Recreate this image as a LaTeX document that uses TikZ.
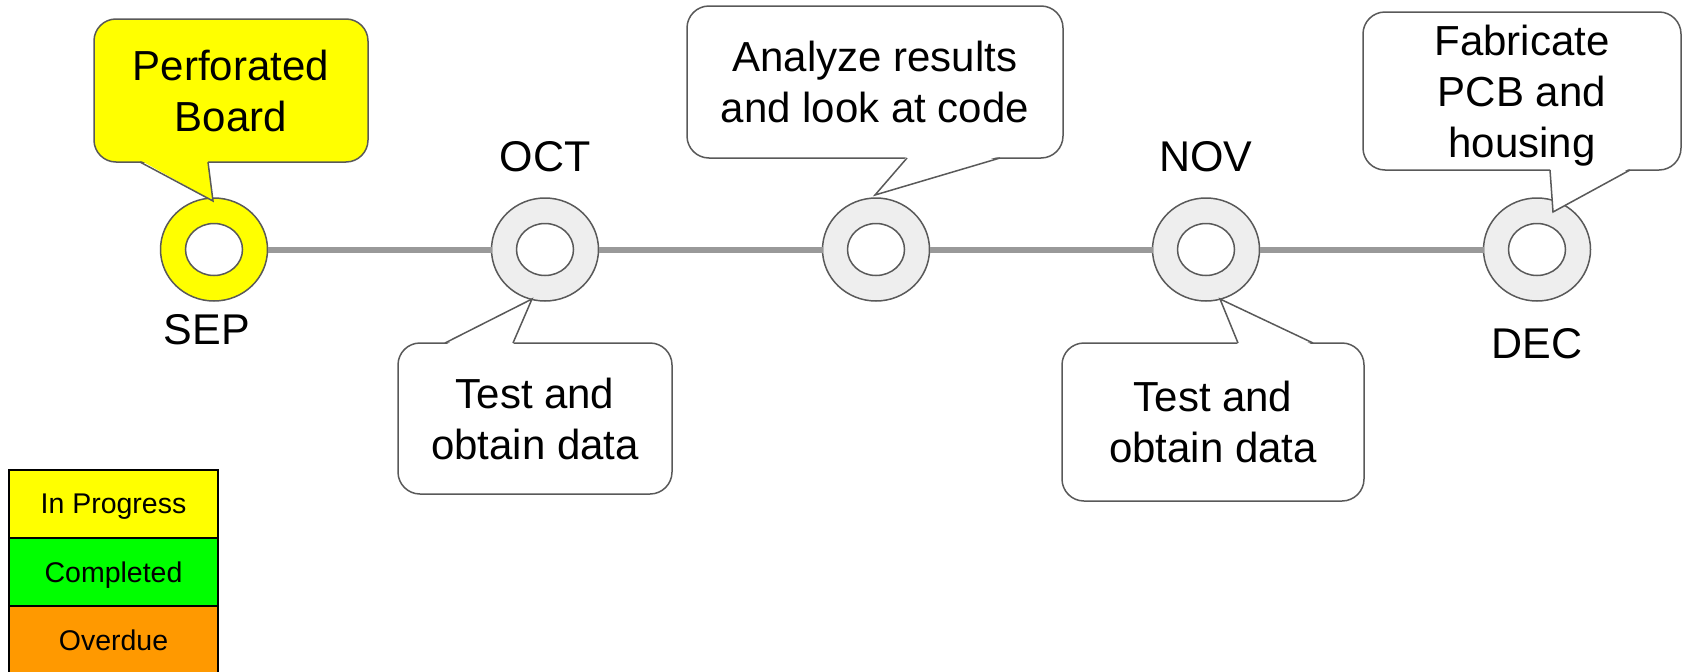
\documentclass[tikz,border=0pt]{standalone}
\usepackage{fontspec}
\setmainfont{Liberation Sans}
\usetikzlibrary{positioning,calc,shapes.geometric}
\definecolor{ringgray}{HTML}{EEEEEE}
\definecolor{edgegray}{HTML}{595959}
\definecolor{linegray}{HTML}{999999}
\definecolor{busyyellow}{HTML}{FFFF00}
\definecolor{donegreen}{HTML}{00FF00}
\definecolor{lateorange}{HTML}{FF9900}

\begin{document}
\begin{tikzpicture}[x=1pt,y=-1pt,
  ring/.style={ellipse,draw=edgegray,line width=1.5,fill=ringgray,minimum width=107,minimum height=103,inner sep=0,outer sep=0},
  hole/.style={ellipse,draw=edgegray,line width=1.5,fill=white,minimum width=57,minimum height=52,inner sep=0,outer sep=0},
  month/.style={font=\fontsize{43}{50}\selectfont,inner sep=0,outer sep=0},
  note/.style={draw=edgegray,line width=1.5,fill=white,rounded corners=22,align=center,text depth=0pt,inner sep=0,outer sep=0,font=\fontsize{42}{51}\selectfont},
  tail/.style={draw=edgegray,line width=1.5,line join=miter},
  key/.style={draw=black,line width=2,minimum width=209,minimum height=68,inner sep=0,outer sep=0,text depth=0pt,font=\fontsize{28.5}{34}\selectfont}]
\useasboundingbox (0,0) rectangle (1682,672);

% milestones on the timeline
\node[ring,fill=busyyellow] (sep) at (214,249.5) {};
\node[ring] (oct) at (545,249.5) {};
\node[ring] (mid) at (876,249.5) {};
\node[ring] (nov) at (1206,249.5) {};
\node[ring] (dec) at (1537,249.5) {};
\draw[linegray,line width=6] (sep) -- (oct) (oct) -- (mid) (mid) -- (nov) (nov) -- (dec);
\node[hole] (sephole) at (sep) {};
\node[hole] (octhole) at (oct) {};
\node[hole] (midhole) at (mid) {};
\node[hole] (novhole) at (nov) {};
\node[hole] (dechole) at (dec) {};

\node[month,below=13pt of sep,xshift=-7pt] (seplabel) {SEP};
\node[month,above=26pt of oct] (octlabel) {OCT};
\node[month,above=26pt of nov] (novlabel) {NOV};
\node[month,below=27pt of dec] (declabel) {DEC};

% callouts
\coordinate (septip) at (213,201);
\coordinate (octtip) at (532,299);
\coordinate (midtip) at (875,195);
\coordinate (novtip) at (1220,299);
\coordinate (dectip) at (1553,212);

\node[note,fill=busyyellow,minimum width=274,minimum height=143] (sepnote) at (231,90.5) {Perforated\\Board};
\fill[busyyellow] ($(sepnote.south west)+(46,-2)$) -- (septip) -- ($(sepnote.south west)+(114,-2)$) -- cycle;
\draw[tail] ($(sepnote.south west)+(46,0)$) -- (septip) -- ($(sepnote.south west)+(114,0)$);

\node[note,minimum width=274,minimum height=151] (octnote) at (535,418.5) {Test and\\obtain data};
\fill[white] ($(octnote.north west)+(47,2)$) -- (octtip) -- ($(octnote.north west)+(115,2)$) -- cycle;
\draw[tail] ($(octnote.north west)+(47,0)$) -- (octtip) -- ($(octnote.north west)+(115,0)$);

\node[note,minimum width=376,minimum height=152] (midnote) at (875,82) {Analyze results\\and look at code};
\fill[white] ($(midnote.south west)+(220,-2)$) -- (midtip) -- ($(midnote.south west)+(313,-2)$) -- cycle;
\draw[tail] ($(midnote.south west)+(220,0)$) -- (midtip) -- ($(midnote.south west)+(313,0)$);

\node[note,minimum width=302,minimum height=158] (novnote) at (1213,422) {Test and\\obtain data};
\fill[white] ($(novnote.north west)+(176,2)$) -- (novtip) -- ($(novnote.north west)+(251,2)$) -- cycle;
\draw[tail] ($(novnote.north west)+(176,0)$) -- (novtip) -- ($(novnote.north west)+(251,0)$);

\node[note,minimum width=318,minimum height=158] (decnote) at (1522,91) {Fabricate\\PCB and\\housing};
\fill[white] ($(decnote.south west)+(187,-2)$) -- (dectip) -- ($(decnote.south west)+(267,-2)$) -- cycle;
\draw[tail] ($(decnote.south west)+(187,0)$) -- (dectip) -- ($(decnote.south west)+(267,0)$);

% legend
\node[key,fill=busyyellow] (inprogress) at (113.5,504) {In Progress};
\node[key,fill=donegreen,below=0pt of inprogress] (completed) {Completed};
\node[key,fill=lateorange,below=0pt of completed] (overdue) {Overdue};
\end{tikzpicture}
\end{document}
